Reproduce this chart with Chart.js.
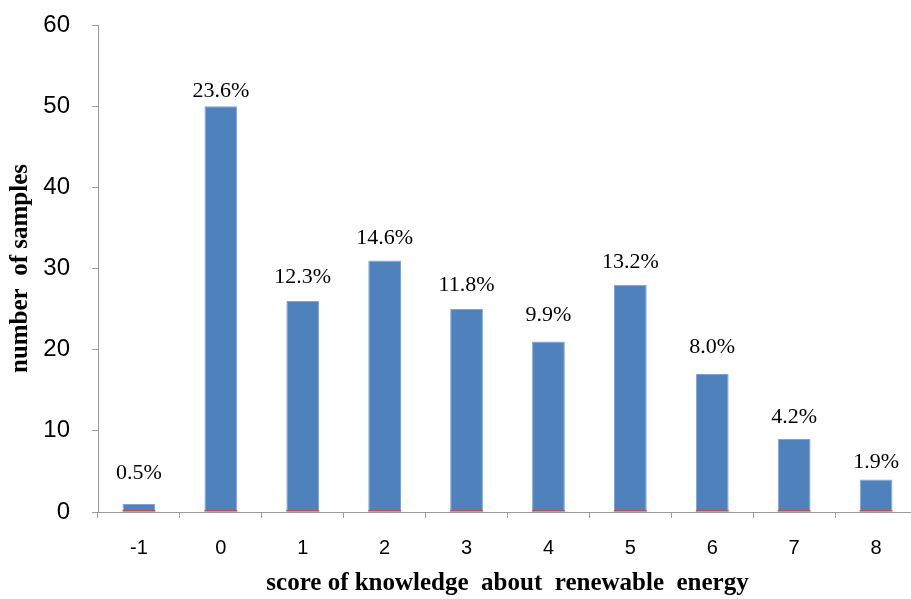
<!DOCTYPE html>
<html>
<head>
<meta charset="utf-8">
<script src="https://cdn.jsdelivr.net/npm/chart.js@4"></script>
<style>
  html, body { margin: 0; padding: 0; background: #fff; overflow: hidden; }
  #wrap { width: 917px; height: 599px; }
</style>
</head>
<body>
<div id="wrap"><canvas id="c" width="917" height="599"></canvas></div>
<script>
// Knowledge score categories
const scores = ['-1', '0', '1', '2', '3', '4', '5', '6', '7', '8'];
// Number of respondents at each score
const sampleCounts = [1, 50, 26, 31, 25, 21, 28, 17, 9, 4];
// Share of all respondents, in percent
const sharePercent = [0.5, 23.6, 12.3, 14.6, 11.8, 9.9, 13.2, 8.0, 4.2, 1.9];
// Y axis ticks
const yTicks = [0, 10, 20, 30, 40, 50, 60];

const shareFraction = sharePercent.map(v => v / 100);

const axisGray = '#9a9a9a';

// Percentage labels above the count bars; each label sits at its own
// hand-placed distance (px) above its bar.
const percentLabels = {
  id: 'percentLabels',
  afterDatasetsDraw(chart, args, opts) {
    const ctx = chart.ctx;
    const meta = chart.getDatasetMeta(1);
    const lift = opts.lift || [];
    ctx.save();
    ctx.font = '22px "Liberation Serif", "Times New Roman", serif';
    ctx.fillStyle = '#000';
    ctx.textAlign = 'center';
    ctx.textBaseline = 'alphabetic';
    meta.data.forEach((bar, i) => {
      const dy = lift[i] != null ? lift[i] : 10;
      ctx.fillText(sharePercent[i].toFixed(1) + '%', bar.x, bar.y - dy);
    });
    ctx.restore();
  }
};

new Chart(document.getElementById('c'), {
  type: 'bar',
  data: {
    labels: scores,
    datasets: [
      {
        label: 'share',
        data: shareFraction,
        backgroundColor: '#C0504D',
        minBarLength: 2,
        barPercentage: 1,
        categoryPercentage: 0.4
      },
      {
        label: 'number of samples',
        data: sampleCounts,
        backgroundColor: '#4F81BD',
        borderColor: '#7FA3D3',
        borderWidth: 1,
        barPercentage: 1,
        categoryPercentage: 0.4
      }
    ]
  },
  options: {
    responsive: false,
    devicePixelRatio: 1,
    animation: false,
    layout: { padding: { top: 25, right: 0, bottom: 0, left: 0 } },
    plugins: {
      legend: { display: false },
      tooltip: { enabled: false },
      percentLabels: { lift: [25, 9, 18, 16, 18, 21, 17, 21, 16, 12] }
    },
    scales: {
      x: {
        stacked: true,
        grid: {
          offset: true,
          drawOnChartArea: false,
          drawTicks: true,
          tickLength: 6,
          color: axisGray
        },
        border: { color: axisGray, width: 1 },
        ticks: {
          color: '#000',
          padding: 18,
          font: { family: '"Liberation Sans", Arial, sans-serif', size: 20 }
        },
        title: {
          display: true,
          text: 'score of knowledge  about  renewable  energy',
          color: '#000',
          font: { family: '"Liberation Serif", "Times New Roman", serif', size: 25, weight: 'bold' },
          padding: { top: 4, bottom: 0 }
        },
        afterFit(scale) {
          scale.height = 87;
          scale.paddingLeft = 0;
          scale.paddingRight = 0;
        }
      },
      y: {
        stacked: false,
        min: 0,
        max: 60,
        afterBuildTicks(scale) { scale.ticks = yTicks.map(v => ({ value: v })); },
        grid: {
          drawOnChartArea: false,
          drawTicks: true,
          tickLength: 6,
          color: axisGray
        },
        border: { color: axisGray, width: 1 },
        ticks: {
          color: '#000',
          padding: 22,
          font: { family: '"Liberation Sans", Arial, sans-serif', size: 24 }
        },
        title: {
          display: true,
          text: 'number  of samples',
          color: '#000',
          font: { family: '"Liberation Serif", "Times New Roman", serif', size: 25, weight: 'bold' },
          padding: { top: 6, bottom: 0 }
        },
        afterFit(scale) {
          scale.width = 98;
          scale.paddingTop = 0;
          scale.paddingBottom = 0;
        }
      }
    }
  },
  plugins: [percentLabels]
});
</script>
</body>
</html>
